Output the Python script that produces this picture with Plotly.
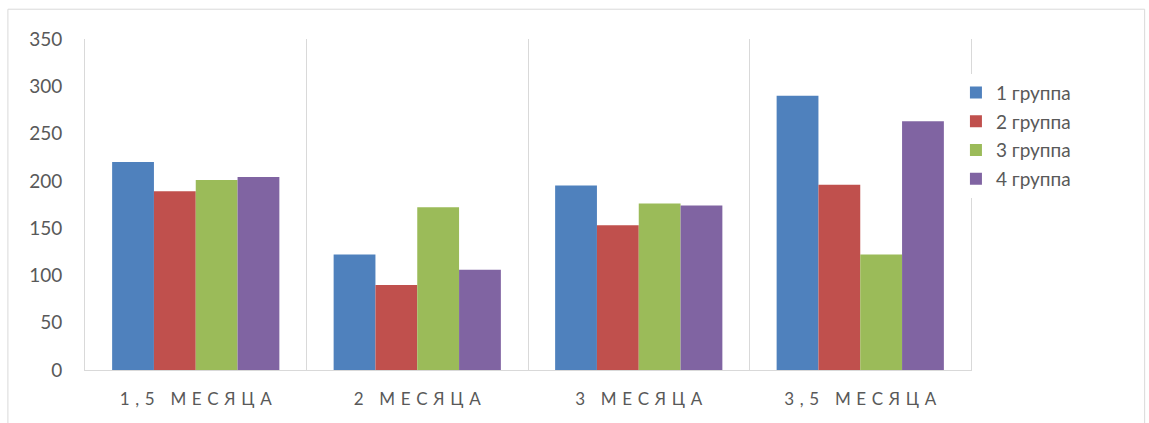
import plotly.graph_objects as go

categories = ["1,5 месяца", "2 месяца", "3 месяца", "3,5 месяца"]
series_names = ["1 группа", "2 группа", "3 группа", "4 группа"]
group1 = [220, 122, 195, 290]
group2 = [189, 90, 153, 196]
group3 = [201, 172, 176, 122]
group4 = [204, 106, 174, 263]
y_ticks = [0, 50, 100, 150, 200, 250, 300, 350]

colors = ["#4F81BD", "#C0504D", "#9BBB59", "#8064A2"]
values = [group1, group2, group3, group4]

fig = go.Figure()
for name, vals, col in zip(series_names, values, colors):
    fig.add_trace(go.Bar(name=name, x=categories, y=vals, legendgroup=name,
                         marker=dict(color=col, line=dict(width=0))))

spaced = ["\u2004".join(c.upper()) for c in categories]

fig.update_layout(
    width=1149, height=423,
    barmode="group", bargap=0.245, bargroupgap=0,
    plot_bgcolor="white", paper_bgcolor="white",
    margin=dict(l=85, r=178, t=39, b=53),
    font=dict(family="Lato, Open Sans, sans-serif", color="#595959"),
    legend=dict(x=0.983, y=0.895, xanchor="left", yanchor="top",
                font=dict(size=19, color="#595959"), traceorder="grouped",
                itemwidth=30, tracegroupgap=1),
    shapes=[dict(type="rect", xref="paper", yref="paper",
                 x0=-0.087, x1=1.196, y0=-0.2, y1=1.09,
                 line=dict(color="#D9D9D9", width=1), fillcolor="rgba(0,0,0,0)", layer="below")],
)
fig.update_xaxes(type="category", tickson="boundaries", showgrid=True, gridcolor="#D9D9D9", gridwidth=1,
                 showline=True, linecolor="#D9D9D9", linewidth=1, ticks="",
                 tickfont=dict(size=17, color="#595959"), ticktext=spaced,
                 tickvals=categories, ticklabelstandoff=14)
fig.update_yaxes(range=[0, 350], tickvals=y_ticks, showgrid=False, zeroline=False,
                 showline=True, mirror=True, linecolor="#D9D9D9", linewidth=1,
                 tickfont=dict(size=19, color="#595959"), ticklabelstandoff=18)

fig.write_html("out.html")
